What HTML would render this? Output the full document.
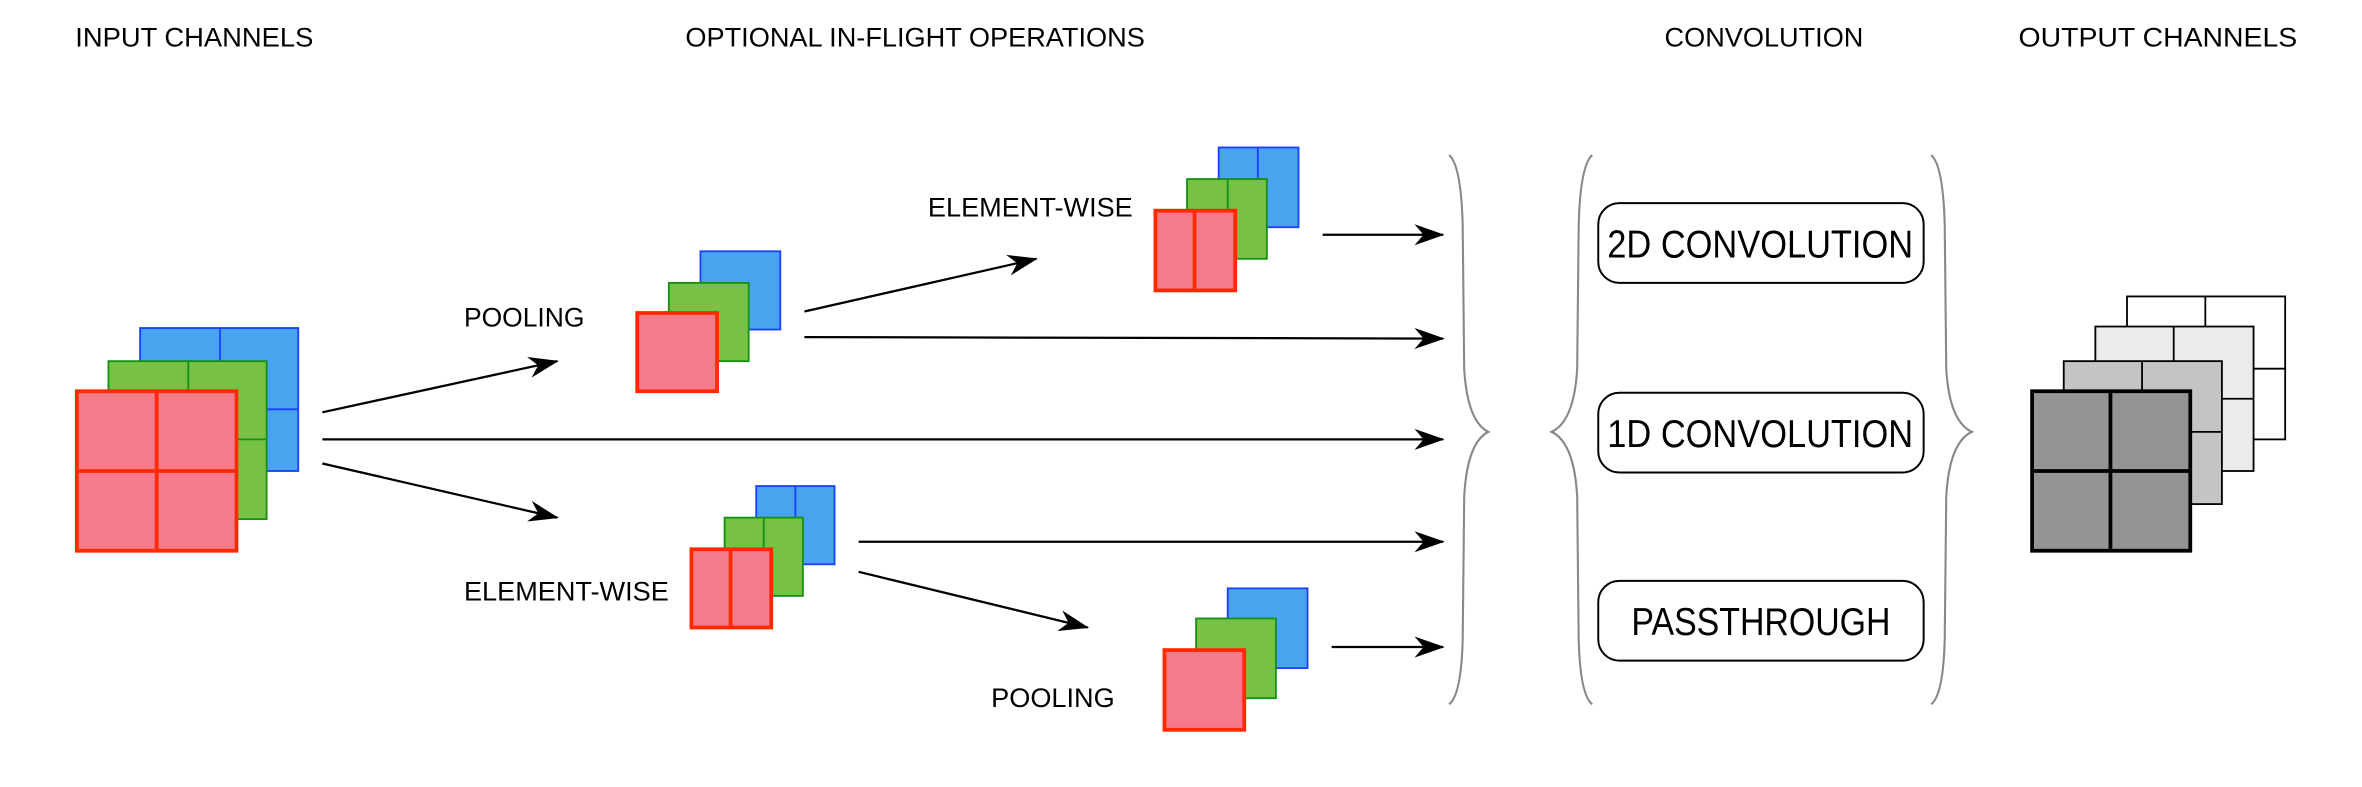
<!DOCTYPE html>
<html><head><meta charset="utf-8"><style>
html,body{margin:0;padding:0;background:#fff;}
svg{display:block;}
text{font-family:"Liberation Sans",Arial,sans-serif;fill:#000;}
</style></head><body>
<svg width="2362" height="787" viewBox="0 0 1568 523" preserveAspectRatio="none" xmlns="http://www.w3.org/2000/svg">
<defs>
<marker id="a" markerUnits="userSpaceOnUse" markerWidth="20" markerHeight="14" refX="19" refY="7" orient="auto">
<path d="M0,0 L20,7 L0,14 L6,7 z" fill="#000"/>
</marker>
</defs>
<g font-size="18">
<text x="50" y="31" textLength="158" lengthAdjust="spacingAndGlyphs">INPUT CHANNELS</text>
<text x="455" y="31" textLength="305" lengthAdjust="spacingAndGlyphs">OPTIONAL IN-FLIGHT OPERATIONS</text>
<text x="1105" y="31" textLength="132" lengthAdjust="spacingAndGlyphs">CONVOLUTION</text>
<text x="1340" y="31" textLength="185" lengthAdjust="spacingAndGlyphs">OUTPUT CHANNELS</text>
<text x="308" y="217" textLength="80" lengthAdjust="spacingAndGlyphs">POOLING</text>
<text x="616" y="144" textLength="136" lengthAdjust="spacingAndGlyphs">ELEMENT-WISE</text>
<text x="308" y="399" textLength="136" lengthAdjust="spacingAndGlyphs">ELEMENT-WISE</text>
<text x="658" y="470" textLength="82" lengthAdjust="spacingAndGlyphs">POOLING</text>
</g>
<!-- input stack -->
<g stroke="#1a3fff" stroke-width="1.2" fill="#4aa3ef"><rect x="93" y="218" width="105" height="95"/><path d="M146,218V313M93,272H198" fill="none"/></g>
<g stroke="#139113" stroke-width="1.2" fill="#77c244"><rect x="72" y="240" width="105" height="105"/><path d="M125,240V345M72,292H177" fill="none"/></g>
<g stroke="#ff2a00" stroke-width="2.5" fill="#f57a8b"><rect x="51" y="260" width="106" height="106"/><path d="M104,260V366M51,313H157" fill="none"/></g>
<!-- arrows -->
<g stroke="#000" stroke-width="1.5" fill="none" marker-end="url(#a)">
<path d="M214,274L370,240"/><path d="M214,292L958,292"/><path d="M214,308L370,344"/>
<path d="M534,207L688,172"/><path d="M534,224L958,225"/><path d="M878,156L958,156"/>
<path d="M570,360L958,360"/><path d="M570,380L722,417"/><path d="M884,430L958,430"/>
</g>
<!-- pooling top -->
<rect x="465" y="167" width="53" height="52" fill="#4aa3ef" stroke="#1a3fff" stroke-width="1.2"/>
<rect x="444" y="188" width="53" height="52" fill="#77c244" stroke="#139113" stroke-width="1.2"/>
<rect x="423" y="208" width="53" height="52" fill="#f57a8b" stroke="#ff2a00" stroke-width="2.5"/>
<!-- elementwise top -->
<g stroke="#1a3fff" stroke-width="1.2" fill="#4aa3ef"><rect x="809" y="98" width="53" height="53"/><path d="M835,98V151"/></g>
<g stroke="#139113" stroke-width="1.2" fill="#77c244"><rect x="788" y="119" width="53" height="53"/><path d="M815,119V172"/></g>
<g stroke="#ff2a00" stroke-width="2.5" fill="#f57a8b"><rect x="767" y="140" width="53" height="53"/><path d="M793,140V193"/></g>
<!-- elementwise bottom -->
<g stroke="#1a3fff" stroke-width="1.2" fill="#4aa3ef"><rect x="502" y="323" width="52" height="52"/><path d="M528,323V375"/></g>
<g stroke="#139113" stroke-width="1.2" fill="#77c244"><rect x="481" y="344" width="52" height="52"/><path d="M507,344V396"/></g>
<g stroke="#ff2a00" stroke-width="2.5" fill="#f57a8b"><rect x="459" y="365" width="53" height="52"/><path d="M485,365V417"/></g>
<!-- pooling bottom -->
<rect x="815" y="391" width="53" height="53" fill="#4aa3ef" stroke="#1a3fff" stroke-width="1.2"/>
<rect x="794" y="411" width="53" height="53" fill="#77c244" stroke="#139113" stroke-width="1.2"/>
<rect x="773" y="432" width="53" height="53" fill="#f57a8b" stroke="#ff2a00" stroke-width="2.5"/>
<!-- braces -->
<g stroke="#888" stroke-width="1.4" fill="none">
<path d="M962,103 Q970,110 971,150 L972,245 Q974,280 988,287 Q974,294 972,330 L971,425 Q970,462 962,468"/>
<path d="M1057,103 Q1049,110 1048,150 L1047,245 Q1045,280 1030,287 Q1045,294 1047,330 L1048,425 Q1049,462 1057,468"/>
<path d="M1282,103 Q1290,110 1291,150 L1292,245 Q1294,280 1309,287 Q1294,294 1292,330 L1291,425 Q1290,462 1282,468"/>
</g>
<!-- boxes -->
<g stroke="#000" stroke-width="1.3" fill="#fff">
<rect x="1061" y="135" width="216" height="53" rx="14"/>
<rect x="1061" y="261" width="216" height="53" rx="14"/>
<rect x="1061" y="386" width="216" height="53" rx="14"/>
</g>
<g font-size="26">
<text x="1067" y="171" textLength="203" lengthAdjust="spacingAndGlyphs">2D CONVOLUTION</text>
<text x="1067" y="297" textLength="203" lengthAdjust="spacingAndGlyphs">1D CONVOLUTION</text>
<text x="1083" y="422" textLength="172" lengthAdjust="spacingAndGlyphs">PASSTHROUGH</text>
</g>
<!-- output stack -->
<g stroke="#000" stroke-width="1.2" fill="#fff"><rect x="1412" y="197" width="105" height="95"/><path d="M1464,197V292M1412,245H1517" fill="none"/></g>
<g stroke="#000" stroke-width="1.2" fill="#ebebeb"><rect x="1391" y="217" width="105" height="96"/><path d="M1443,217V313M1391,265H1496" fill="none"/></g>
<g stroke="#000" stroke-width="1.2" fill="#c4c4c4"><rect x="1370" y="240" width="105" height="95"/><path d="M1422,240V335M1370,287H1475" fill="none"/></g>
<g stroke="#000" stroke-width="2.5" fill="#949494"><rect x="1349" y="260" width="105" height="106"/><path d="M1401,260V366M1349,313H1454" fill="none"/></g>
</svg>
</body></html>
